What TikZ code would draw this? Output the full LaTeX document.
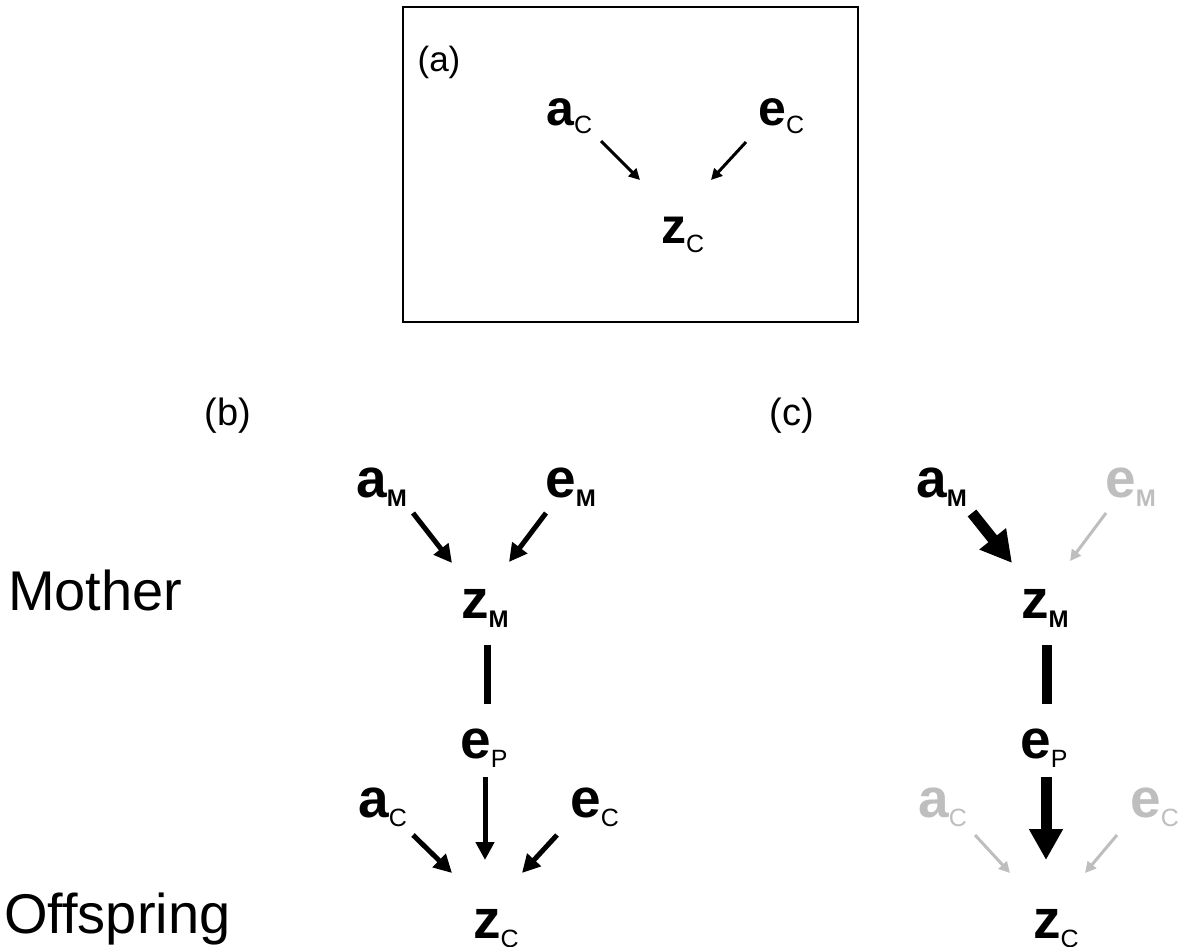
\documentclass[tikz,border=0pt]{standalone}
\usepackage{fontspec}
\setmainfont{Liberation Sans}
\usetikzlibrary{arrows.meta}
\definecolor{lgray}{RGB}{190,190,190}
\newcommand{\mainsub}[4]{{\fontsize{#1}{#1}\selectfont\bfseries #3}\raisebox{-9pt}{\fontsize{#2}{#2}\selectfont #4}}
\tikzset{
  lab/.style={inner sep=0pt, anchor=base west},
  big/.style={font=\fontsize{38}{38}\selectfont, inner sep=0pt},
  side/.style={font=\fontsize{56}{56}\selectfont, inner sep=0pt, anchor=base west},
  thinarr/.style={line width=3pt, -{Triangle[length=11pt,width=11pt]}},
  medarr/.style={line width=5pt, -{Triangle[length=18pt,width=18pt]}},
  bigarr/.style={line width=11pt, -{Triangle[length=31pt,width=32pt]}},
  greyarr/.style={line width=3pt, lgray, -{Triangle[length=11pt,width=11pt]}},
}
\begin{document}
\begin{tikzpicture}[x=1pt,y=-1pt]
\useasboundingbox (0,0) rectangle (1183,947);
% panel (a)
\draw[line width=1.5pt] (403,7) rectangle (858,322);
\node[font=\fontsize{35}{35}\selectfont, inner sep=0pt] (la) at (439,62) {(a)};
\node[lab] (a_ac) at (546,125) {\mainsub{50}{25}{a}{C}};
\node[lab] (a_ec) at (758,125) {\mainsub{50}{25}{e}{C}};
\node[lab] (a_zc) at (661,243) {\mainsub{50}{25}{z}{C}};
\coordinate (a1s) at (601,141); \coordinate (a1t) at (640,180);
\coordinate (a2s) at (746,142); \coordinate (a2t) at (711,180);
\draw[thinarr] (a1s) -- (a1t);
\draw[thinarr] (a2s) -- (a2t);
% side labels
\node[side] (mother) at (8,610) {Mother};
\node[side] (offspring) at (4,933) {Offspring};
% panel (b)
\node[big] (lb) at (228,416) {(b)};
\node[lab] (b_am) at (356,497) {\mainsub{55}{24}{a}{\bfseries M}};
\node[lab] (b_em) at (545,497) {\mainsub{55}{24}{e}{\bfseries M}};
\node[lab] (b_zm) at (461,618) {\mainsub{55}{24}{z}{\bfseries M}};
\node[lab] (b_ep) at (460,758) {\mainsub{55}{25}{e}{P}};
\node[lab] (b_ac) at (358,817) {\mainsub{55}{25}{a}{C}};
\node[lab] (b_ec) at (570,817) {\mainsub{55}{25}{e}{C}};
\node[lab] (b_zc) at (473,938) {\mainsub{55}{25}{z}{C}};
\coordinate (b1s) at (413,513); \coordinate (b1t) at (452,563);
\coordinate (b2s) at (546,513); \coordinate (b2t) at (509,562);
\coordinate (b3s) at (487,645); \coordinate (b3t) at (487,704);
\coordinate (b4s) at (485,777); \coordinate (b4t) at (485,860);
\coordinate (b5s) at (413,835); \coordinate (b5t) at (452,873);
\coordinate (b6s) at (557,835); \coordinate (b6t) at (522,873);
\draw[medarr] (b1s) -- (b1t);
\draw[medarr] (b2s) -- (b2t);
\draw[line width=7pt] (b3s) -- (b3t);
\draw[medarr] (b4s) -- (b4t);
\draw[medarr] (b5s) -- (b5t);
\draw[medarr] (b6s) -- (b6t);
% panel (c)
\node[big] (lc) at (792,416) {(c)};
\node[lab] (c_am) at (916,497) {\mainsub{55}{24}{a}{\bfseries M}};
\node[lab, text=lgray] (c_em) at (1105,497) {\mainsub{55}{24}{e}{\bfseries M}};
\node[lab] (c_zm) at (1021,618) {\mainsub{55}{24}{z}{\bfseries M}};
\node[lab] (c_ep) at (1020,758) {\mainsub{55}{25}{e}{P}};
\node[lab, text=lgray] (c_ac) at (918,817) {\mainsub{55}{25}{a}{C}};
\node[lab, text=lgray] (c_ec) at (1130,817) {\mainsub{55}{25}{e}{C}};
\node[lab] (c_zc) at (1033,938) {\mainsub{55}{25}{z}{C}};
\coordinate (c1s) at (972,513); \coordinate (c1t) at (1012,563);
\coordinate (c2s) at (1106,513); \coordinate (c2t) at (1070,561);
\coordinate (c3s) at (1047,645); \coordinate (c3t) at (1047,704);
\coordinate (c4s) at (1046,777); \coordinate (c4t) at (1046,860);
\coordinate (c5s) at (975,835); \coordinate (c5t) at (1010,873);
\coordinate (c6s) at (1117,835); \coordinate (c6t) at (1085,873);
\draw[bigarr] (c1s) -- (c1t);
\draw[greyarr] (c2s) -- (c2t);
\draw[line width=10pt] (c3s) -- (c3t);
\draw[bigarr] (c4s) -- (c4t);
\draw[greyarr] (c5s) -- (c5t);
\draw[greyarr] (c6s) -- (c6t);
\end{tikzpicture}
\end{document}
